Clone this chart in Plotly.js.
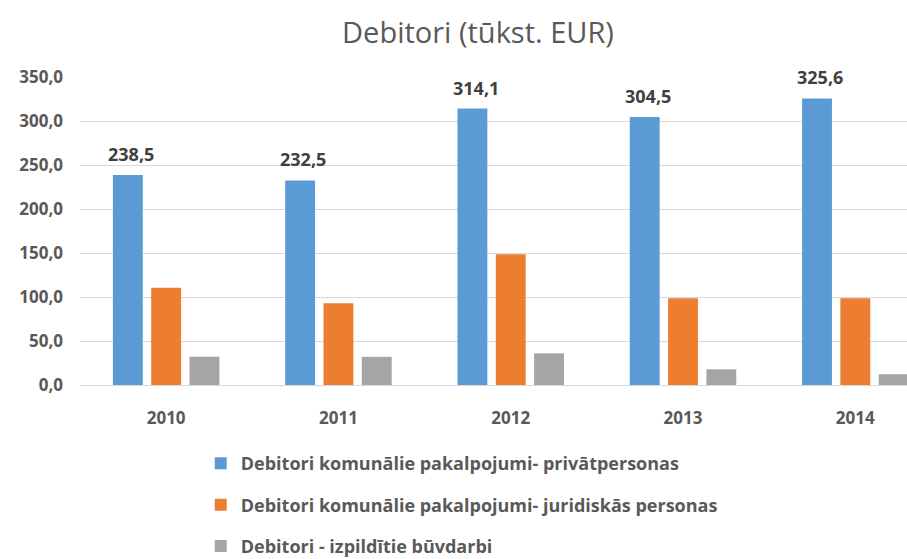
<!DOCTYPE html>
<html>
<head>
<meta charset="utf-8">
<script src="https://cdn.plot.ly/plotly-3.0.1.min.js"></script>
<style>html,body{margin:0;padding:0;background:#fff;}</style>
</head>
<body>
<div id="chart" style="width:907px;height:559px;"></div>
<script>
const categories = ["2010", "2011", "2012", "2013", "2014"];
const seriesNames = [
  "Debitori komunālie pakalpojumi- privātpersonas",
  "Debitori komunālie pakalpojumi- juridiskās personas",
  "Debitori - izpildītie būvdarbi"
];
const privatpersonas = [238.5, 232.5, 314.1, 304.5, 325.6];
const juridiskas = [110.5, 92.8, 148.5, 98.5, 98.5];
const buvdarbi = [32.2, 32.0, 36.0, 17.8, 12.2];
const yTicks = [0, 50, 100, 150, 200, 250, 300, 350];
const colors = ["#5b9bd5", "#ed7d31", "#a5a5a5"];

const fontFam = "'Open Sans', 'Noto Sans', sans-serif";
const values = [privatpersonas, juridiskas, buvdarbi];
const traces = values.map((v, i) => ({
  type: "bar",
  name: seriesNames[i],
  x: categories,
  y: v,
  marker: {color: colors[i]},
  legendgroup: "g" + i,
  hoverinfo: "y"
}));

const fmt = v => v.toFixed(1).replace(".", ",");
const annotations = categories.map((c, i) => ({
  x: i, y: privatpersonas[i], xref: "x", yref: "y",
  text: "<b>" + fmt(privatpersonas[i]) + "</b>",
  showarrow: false, yanchor: "bottom", xshift: -35, yshift: 7,
  font: {family: fontFam, size: 18, color: "#404040"}
}));

const layout = {
  width: 907, height: 559,
  margin: {l: 80, r: 0, t: 77, b: 174, pad: 0, autoexpand: false},
  paper_bgcolor: "#fff", plot_bgcolor: "#fff",
  separators: ", ",
  font: {family: fontFam, color: "#595959"},
  title: {
    text: "Debitori (tūkst. EUR)",
    x: 0.527, xref: "container", xanchor: "center",
    y: 0.942, yref: "container", yanchor: "middle",
    font: {family: fontFam, size: 29, color: "#595959"}
  },
  barmode: "group",
  bargap: 0.333,
  bargroupgap: 0.22,
  xaxis: {
    type: "category",
    range: [-0.5, 4.3],
    showgrid: false,
    showline: true, linecolor: "#d9d9d9", linewidth: 1,
    ticks: "",
    ticklabelstandoff: 18,
    tickfont: {family: fontFam, size: 17, color: "#595959", weight: "bold"}
  },
  yaxis: {
    range: [0, 350],
    tickvals: yTicks,
    tickformat: ".1f",
    showgrid: true, gridcolor: "#d9d9d9", gridwidth: 1,
    zeroline: false,
    showline: false,
    ticks: "",
    ticklabelstandoff: 16,
    tickfont: {family: fontFam, size: 17, color: "#595959", weight: "bold"}
  },
  showlegend: true,
  legend: {
    orientation: "v",
    x: 0.146, xanchor: "left",
    y: -0.195, yanchor: "top",
    tracegroupgap: 15,
    font: {family: fontFam, size: 18, color: "#595959", weight: "bold"},
    bgcolor: "rgba(0,0,0,0)"
  },
  annotations: annotations
};

Plotly.newPlot("chart", traces, layout, {displayModeBar: false, staticPlot: true});
</script>
</body>
</html>
